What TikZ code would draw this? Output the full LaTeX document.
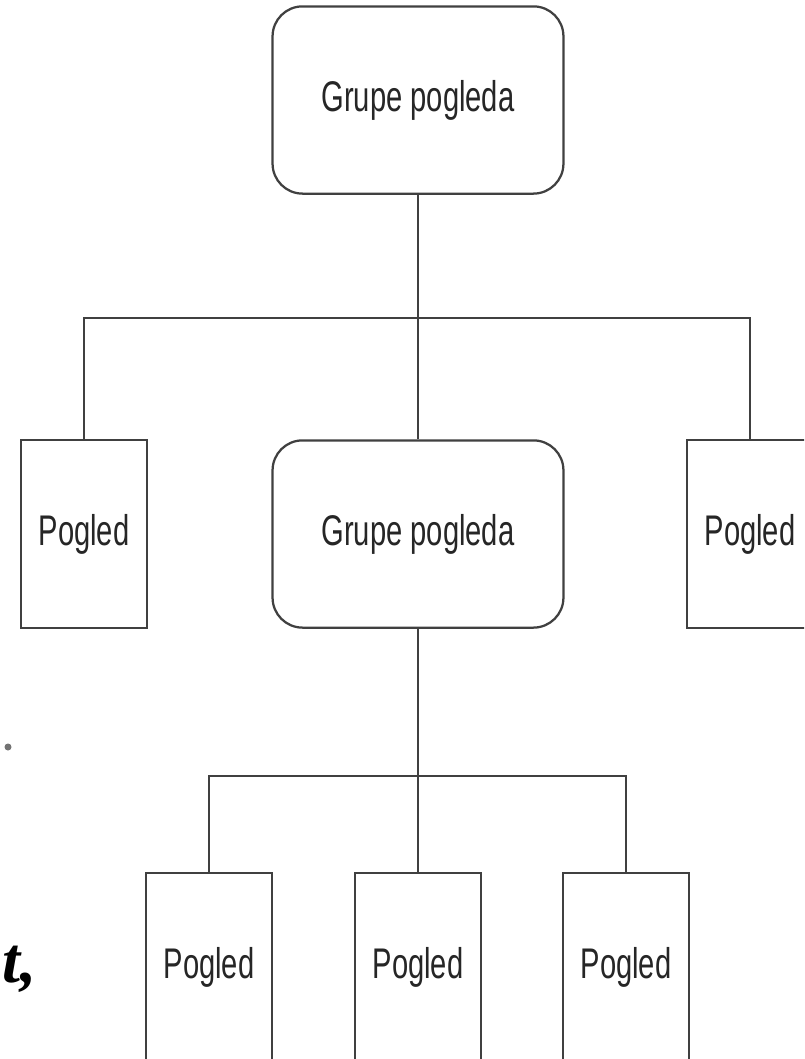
\documentclass[tikz,border=0pt]{standalone}
\usepackage{fontspec}
\newfontfamily\boxfont[FakeStretch=0.68]{Liberation Sans}
\newfontfamily\slidefont{Liberation Serif}
\usetikzlibrary{positioning,calc}

\begin{document}
\begin{tikzpicture}[
    x=0.025cm, y=-0.025cm,
    conn/.style={line width=1.6pt, draw=black!75},
    grpbox/.style={rectangle, draw=black!75, line width=1.6pt, rounded corners=0.75cm, minimum width=7.27cm, minimum height=4.68cm, align=center, font=\boxfont\fontsize{30.5}{36}\selectfont, text=black!85},
    viewbox/.style={rectangle, draw=black!75, line width=1.6pt, minimum width=3.15cm, minimum height=4.7cm, align=center, font=\boxfont\fontsize{30.5}{36}\selectfont, text=black!85}
]
    \clip (0,0) rectangle (804,1059);
    \fill[white] (0,0) rectangle (804,1059);

    % top level
    \node[grpbox] (grp1) at (418,100) {Grupe pogleda};

    % second level
    \node[viewbox] (pog1) at (84,534) {Pogled};
    \node[grpbox] (grp2) at (418,534) {Grupe pogleda};
    \node[viewbox] (pog2) at (750,534) {Pogled};

    % third level
    \node[viewbox] (pog3) at (209,967) {Pogled};
    \node[viewbox] (pog4) at (418,967) {Pogled};
    \node[viewbox] (pog5) at (626,967) {Pogled};

    \coordinate (bus1) at (418,318);
    \coordinate (bus2) at (418,776);

    \draw[conn] (grp1.south) -- (bus1);
    \draw[conn] (bus1) -| (pog1.north);
    \draw[conn] (bus1) -- (grp2.north);
    \draw[conn] (bus1) -| (pog2.north);

    \draw[conn] (grp2.south) -- (bus2);
    \draw[conn] (bus2) -| (pog3.north);
    \draw[conn] (bus2) -- (pog4.north);
    \draw[conn] (bus2) -| (pog5.north);

    % slide remnants on the left
    \fill[black!55] (8,747) circle (3.5);
    \node[anchor=base west, inner sep=0pt, font=\slidefont\bfseries\itshape\fontsize{46}{50}\selectfont] (rest) at (2,982) {t,};
\end{tikzpicture}
\end{document}
